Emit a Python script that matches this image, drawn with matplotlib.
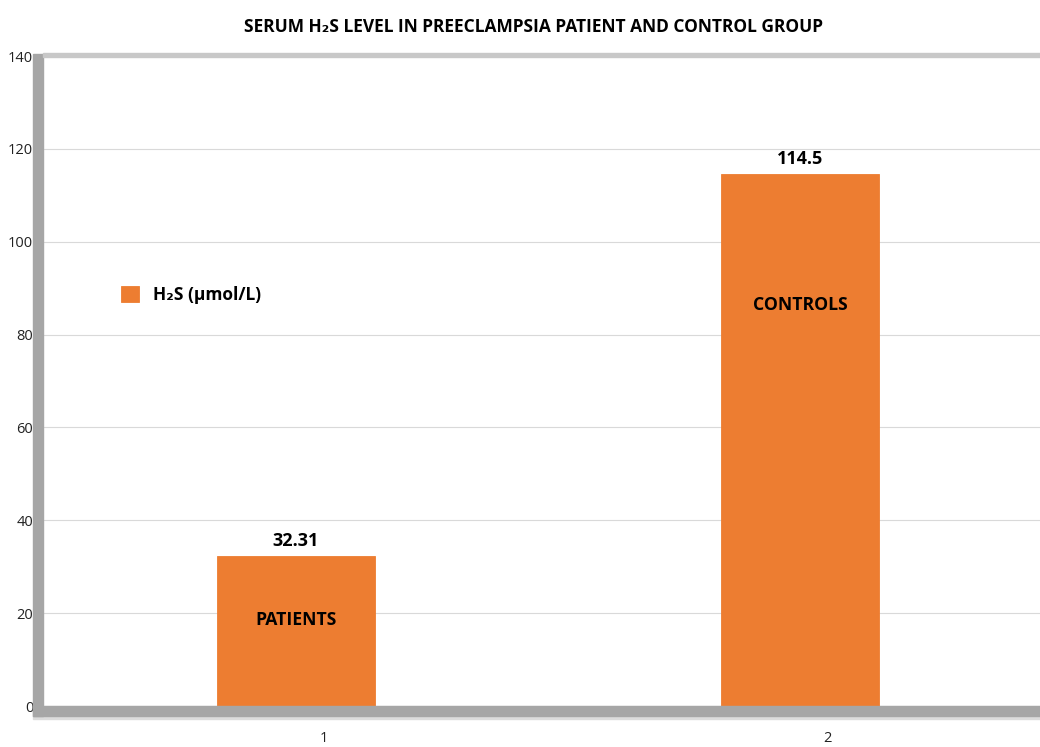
import matplotlib.pyplot as plt
from matplotlib.patches import Rectangle

categories = ["1", "2"]
group_names = ["PATIENTS", "CONTROLS"]
values = [32.31, 114.5]
value_labels = ["32.31", "114.5"]
legend_label = "H\u2082S (\u00b5mol/L)"
title = "SERUM H\u2082S LEVEL IN PREECLAMPSIA PATIENT AND CONTROL GROUP"

plt.rcParams["font.family"] = ["Open Sans", "DejaVu Sans"]

BAR = "#ed7d31"
W, H = 1040, 747

fig = plt.figure(figsize=(W / 100, H / 100), dpi=100)
ax = fig.add_axes([43 / W, 41 / H, 1 - 43 / W, 650 / H])

x = list(range(len(values)))
bars = ax.bar(x, values, width=0.313, color=BAR, edgecolor=BAR,
              linewidth=0.6, label=legend_label, zorder=3)

ax.set_xlim(-0.502, 1.476)
ax.set_ylim(0, 140)
ax.set_yticks(range(0, 141, 20))
ax.set_xticks([i + 0.055 for i in x])
ax.set_xticklabels(categories)
ax.tick_params(axis="y", length=0, pad=7, labelsize=10.5, colors="#222222")
ax.tick_params(axis="x", length=0, pad=18, labelsize=10.5, colors="#222222")
ax.grid(axis="y", color="#d9d9d9", linewidth=0.8, zorder=0)
for s in ax.spines.values():
    s.set_visible(False)

# value labels above bars, group names inside
for xi, v, lab in zip(x, values, value_labels):
    ax.text(xi, v + 3.3, lab, ha="center", va="center", fontsize=13,
            fontweight="bold", color="black")
for xi, v, name in zip(x, [18.5, 86.3], group_names):
    ax.text(xi, v, name, ha="center", va="center", fontsize=12.7,
            fontweight="bold", color="black")

# pseudo-3D walls
wall = "#a6a6a6"
fig.add_artist(Rectangle((33 / W, (H - 716) / H), 10 / W, 662 / H,
                         transform=fig.transFigure, color=wall, zorder=5))
fig.add_artist(Rectangle((33 / W, (H - 716) / H), 1 - 33 / W, 10 / H,
                         transform=fig.transFigure, color=wall, zorder=5))
fig.add_artist(Rectangle((33 / W, (H - 719) / H), 1 - 33 / W, 3 / H,
                         transform=fig.transFigure, color="#dcdcdc", zorder=4))
fig.add_artist(Rectangle((43 / W, (H - 57) / H), 1 - 43 / W, 4 / H,
                         transform=fig.transFigure, color="#c8c8c8", zorder=5))

leg = ax.legend(loc="upper left", bbox_to_anchor=(0.063, 0.67), frameon=False,
                prop={"weight": "bold", "size": 12.5}, handlelength=1.0,
                handleheight=1.0, handletextpad=0.8)

fig.text(533 / W, 1 - 27 / H, title, ha="center", va="center",
         fontsize=12.5, fontweight="bold", color="black")

fig.savefig("out.png", dpi=100, facecolor="white")
